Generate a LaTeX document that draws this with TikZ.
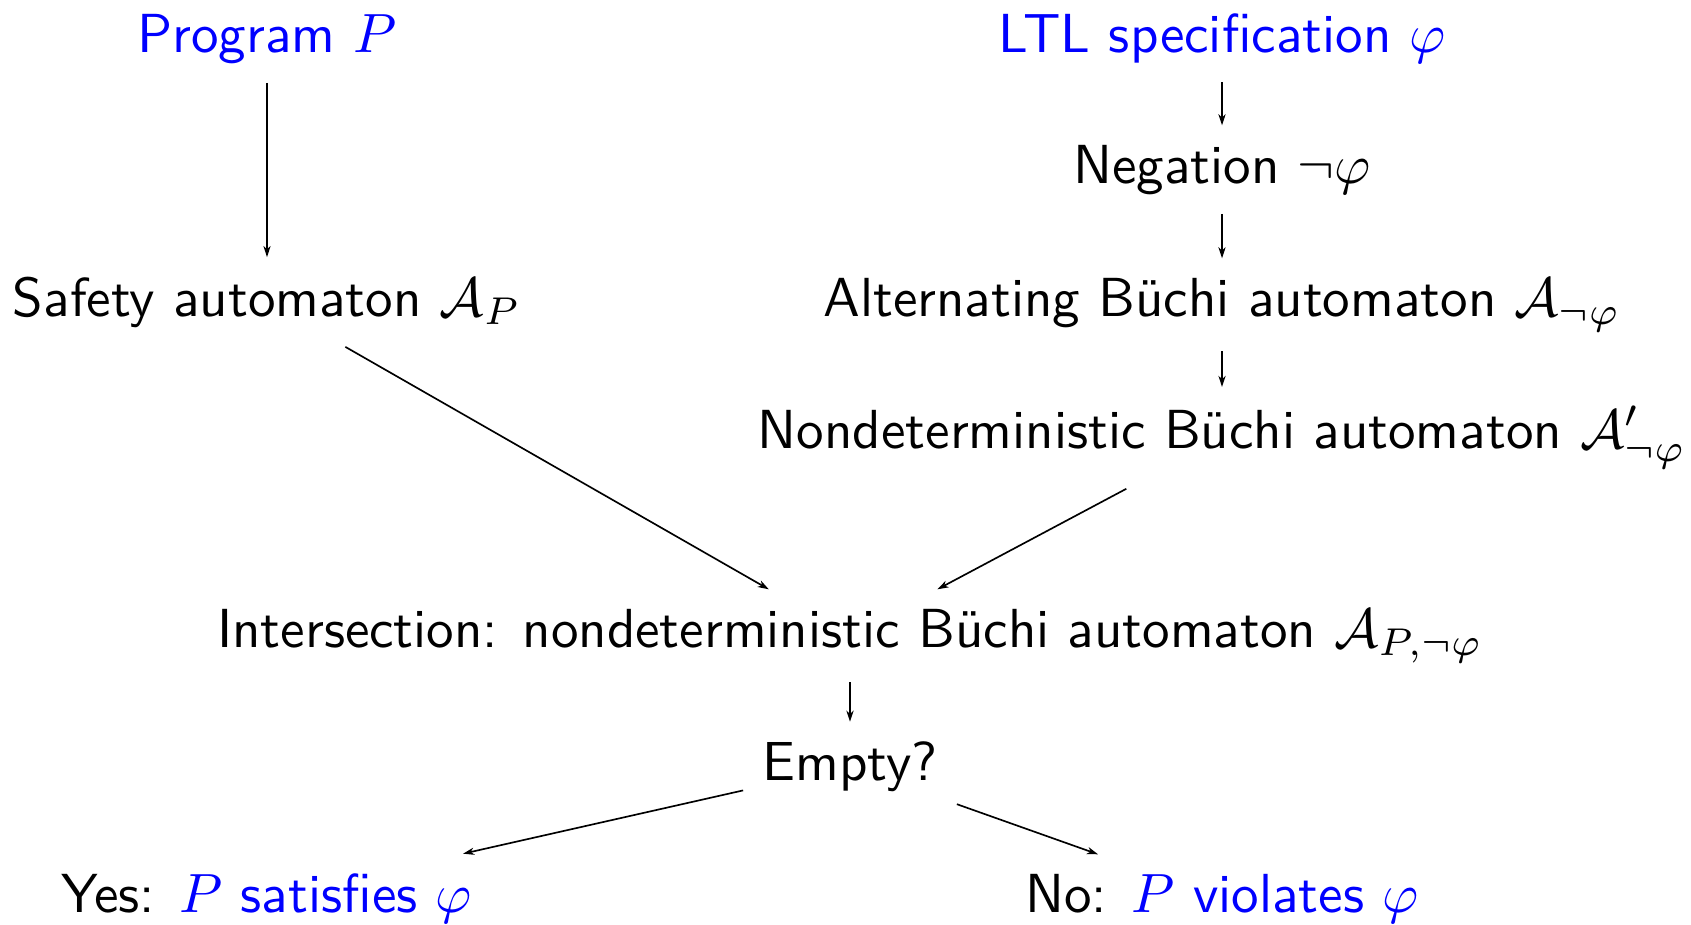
\documentclass[tikz,border=0pt]{standalone}
\usetikzlibrary{arrows.meta}
\begin{document}
\begin{tikzpicture}[x=0.1808pt,y=-0.1808pt,
  lbl/.style={anchor=base,font=\fontsize{9.95}{12}\sffamily},
  inp/.style={lbl,text=blue},
  conn/.style={-{Stealth[length=2pt,width=1.3pt,inset=0.6pt]},line width=0.3pt}]
\useasboundingbox (0,0) rectangle (1691,924);
\node[inp] (prog) at (267,52) {Program $P$};
\node[inp] (ltl) at (1222,52) {LTL specification $\varphi$};
\node[lbl] (neg) at (1222,183) {Negation $\neg\varphi$};
\node[lbl] (safe) at (267,316) {Safety automaton $\mathcal{A}_P$};
\node[lbl] (alt) at (1222,316) {Alternating Büchi automaton $\mathcal{A}_{\neg\varphi}$};
\node[lbl] (nba) at (1222,448) {Nondeterministic Büchi automaton $\mathcal{A}'_{\neg\varphi}$};
\node[lbl] (inter) at (850,647) {Intersection: nondeterministic Büchi automaton $\mathcal{A}_{P,\neg\varphi}$};
\node[lbl] (empty) at (850,780) {Empty?};
\node[lbl] (yes) at (267,912) {Yes: \textcolor{blue}{$P$ satisfies $\varphi$}};
\node[lbl] (no) at (1222,912) {No: \textcolor{blue}{$P$ violates $\varphi$}};
\draw[conn] (prog) -- (safe);
\draw[conn] (ltl) -- (neg);
\draw[conn] (neg) -- (alt);
\draw[conn] (alt) -- (nba);
\draw[conn] (safe) -- (inter);
\draw[conn] (nba) -- (inter);
\draw[conn] (inter) -- (empty);
\draw[conn] (empty) -- (yes);
\draw[conn] (empty) -- (no);
\end{tikzpicture}
\end{document}
